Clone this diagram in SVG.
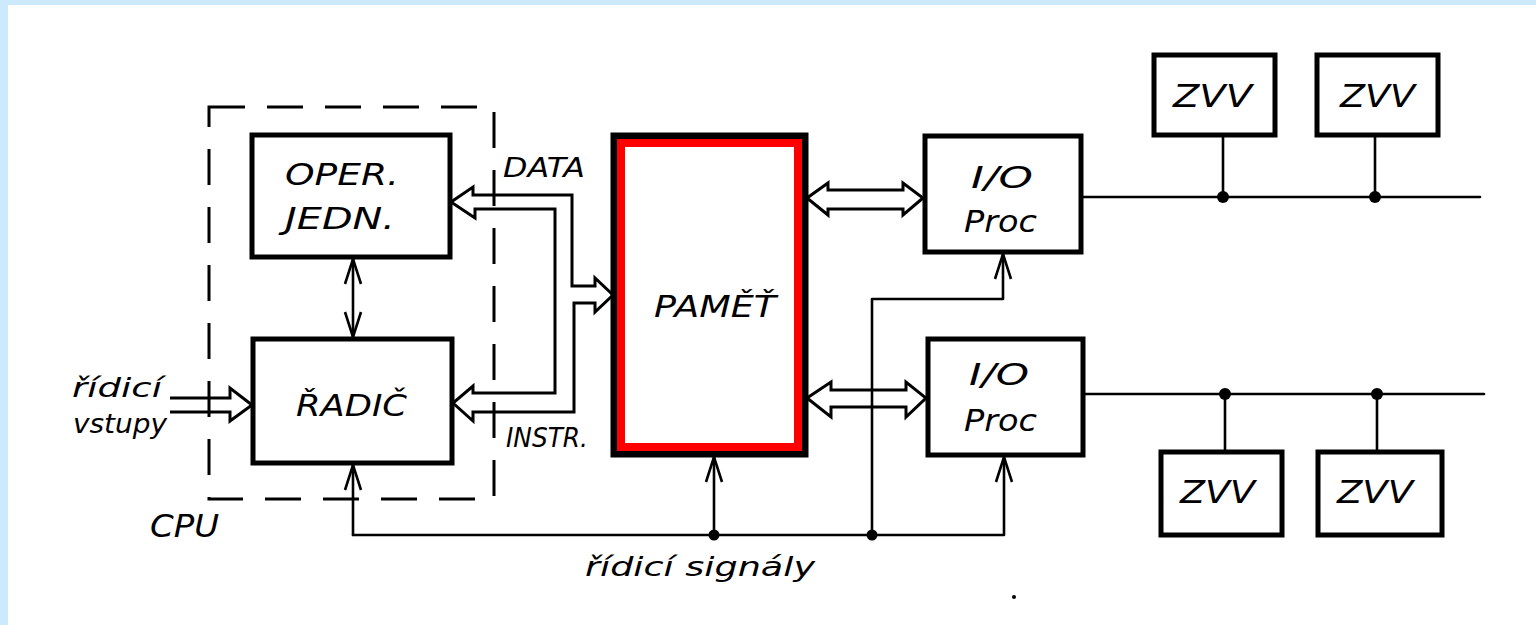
<svg xmlns="http://www.w3.org/2000/svg" width="1536" height="625" viewBox="0 0 1536 625">
<style>
.box{fill:#fff;stroke:#000;stroke-width:5}
.thin{fill:none;stroke:#000;stroke-width:2.6;stroke-linejoin:round;stroke-linecap:round}
.hollow{fill:none;stroke:#000;stroke-width:3;stroke-linejoin:miter}
.t{font-family:"DejaVu Sans","Liberation Sans",sans-serif;font-style:italic;fill:#000}
.big{font-size:30px}
.mid{font-size:26px}
.dot{fill:#000}
</style>
<defs>
<marker id="ah" viewBox="-28 -11 30 22" refX="0" refY="0" markerWidth="30" markerHeight="22" markerUnits="userSpaceOnUse" orient="auto-start-reverse">
<path d="M-25,-8 L0,0 L-25,8" fill="none" stroke="#000" stroke-width="2.6" stroke-linejoin="miter"/>
</marker>
</defs>
<rect x="0" y="0" width="1536" height="625" fill="#cdeafd"/>
<rect x="8" y="5" width="1528" height="620" fill="#fff"/>

<g id="cpu">
<rect x="209" y="107" width="285" height="392" fill="none" stroke="#000" stroke-width="3" stroke-dasharray="36 22"/>
<text class="t" x="150" y="537" font-size="32" textLength="69" lengthAdjust="spacingAndGlyphs">CPU</text>
</g>

<g id="oper">
<rect class="box" x="252" y="135" width="198" height="122"/>
<text class="t big" x="285" y="185" textLength="114" lengthAdjust="spacingAndGlyphs">OPER.</text>
<text class="t big" x="285" y="229" textLength="110" lengthAdjust="spacingAndGlyphs">JEDN.</text>
</g>

<g id="radic">
<rect class="box" x="253" y="339" width="199" height="124"/>
<text class="t big" x="296" y="416" textLength="111" lengthAdjust="spacingAndGlyphs">ŘADIČ</text>
</g>

<g id="pamet">
<rect x="614" y="136" width="191" height="318" fill="#fff" stroke="#000" stroke-width="7"/>
<rect x="621" y="143" width="177" height="304" fill="none" stroke="#ff0000" stroke-width="8"/>
<text class="t big" x="654" y="317" textLength="122" lengthAdjust="spacingAndGlyphs">PAMĚŤ</text>
</g>

<g id="io1">
<rect class="box" x="925" y="136" width="156" height="116"/>
<text class="t big" x="971" y="188" textLength="62" lengthAdjust="spacingAndGlyphs">I/O</text>
<text class="t big" x="964" y="232" textLength="73" lengthAdjust="spacingAndGlyphs">Proc</text>
</g>

<g id="io2">
<rect class="box" x="928" y="339" width="155" height="116"/>
<text class="t big" x="969" y="385" textLength="60" lengthAdjust="spacingAndGlyphs">I/O</text>
<text class="t big" x="964" y="431" textLength="73" lengthAdjust="spacingAndGlyphs">Proc</text>
</g>

<g id="zvv1">
<rect class="box" x="1154" y="55" width="121" height="80"/>
<text class="t" x="1173" y="107" font-size="32" textLength="79" lengthAdjust="spacingAndGlyphs">ZVV</text>
</g>
<g id="zvv2">
<rect class="box" x="1317" y="55" width="121" height="80"/>
<text class="t" x="1340" y="107" font-size="32" textLength="75" lengthAdjust="spacingAndGlyphs">ZVV</text>
</g>
<g id="zvv3">
<rect class="box" x="1161" y="452" width="121" height="83"/>
<text class="t" x="1180" y="503" font-size="32" textLength="75" lengthAdjust="spacingAndGlyphs">ZVV</text>
</g>
<g id="zvv4">
<rect class="box" x="1318" y="452" width="124" height="83"/>
<text class="t" x="1337" y="503" font-size="32" textLength="76" lengthAdjust="spacingAndGlyphs">ZVV</text>
</g>

<g id="labels">
<text class="t" x="503" y="177" font-size="27" textLength="82" lengthAdjust="spacingAndGlyphs">DATA</text>
<text class="t" x="506" y="447" font-size="27" textLength="82" lengthAdjust="spacingAndGlyphs">INSTR.</text>
<text class="t mid" x="72" y="397" textLength="90" lengthAdjust="spacingAndGlyphs">řídicí</text>
<text class="t mid" x="73" y="433" textLength="94" lengthAdjust="spacingAndGlyphs">vstupy</text>
<text class="t mid" x="585" y="576" textLength="230" lengthAdjust="spacingAndGlyphs">řídicí signály</text>
</g>

<g id="connectors">
<path class="hollow" d="M451,202 L473,187 L473,195 L572,195 L572,286 L595,286 L595,278 L613,295 L595,312 L595,303 L574,303 L574,412 L473,412 L473,421 L453,403 L473,386 L473,393 L555,393 L555,209 L475,209 L475,218 Z"/>
<path class="hollow" d="M170,398 L230,398 L230,388 L252,405 L230,421 L230,412 L170,412"/>
<path class="thin" d="M872,535 V299 H1003 V254" marker-end="url(#ah)"/>
<path class="hollow" d="M807,198 L828,183 L828,190 L903,190 L903,183 L923,198 L903,215 L903,209 L828,209 L828,215 Z"/>
<path class="hollow" d="M807,398 L831,382 L831,390 L906,390 L906,382 L926,398 L906,417 L906,407 L831,407 L831,417 Z"/>
<path class="thin" d="M353,535 V465" marker-end="url(#ah)"/>
<path class="thin" d="M353,535 H1004 V457" marker-end="url(#ah)"/>
<path class="thin" d="M714,535 V457" marker-end="url(#ah)"/>
<path class="thin" d="M353,259 V337" marker-start="url(#ah)" marker-end="url(#ah)"/>
<circle class="dot" cx="714" cy="535" r="5.5"/>
<circle class="dot" cx="872" cy="535" r="5.5"/>
<path class="thin" d="M1081,197 H1480"/>
<path class="thin" d="M1223,135 V197"/>
<path class="thin" d="M1375,135 V197"/>
<circle class="dot" cx="1223" cy="197" r="6"/>
<circle class="dot" cx="1375" cy="197" r="6"/>
<path class="thin" d="M1083,394 H1484"/>
<path class="thin" d="M1225,394 V452"/>
<path class="thin" d="M1377,394 V452"/>
<circle class="dot" cx="1225" cy="394" r="6"/>
<circle class="dot" cx="1377" cy="394" r="6"/>
</g>
<circle cx="1014" cy="597" r="2" fill="#000"/>
</svg>
